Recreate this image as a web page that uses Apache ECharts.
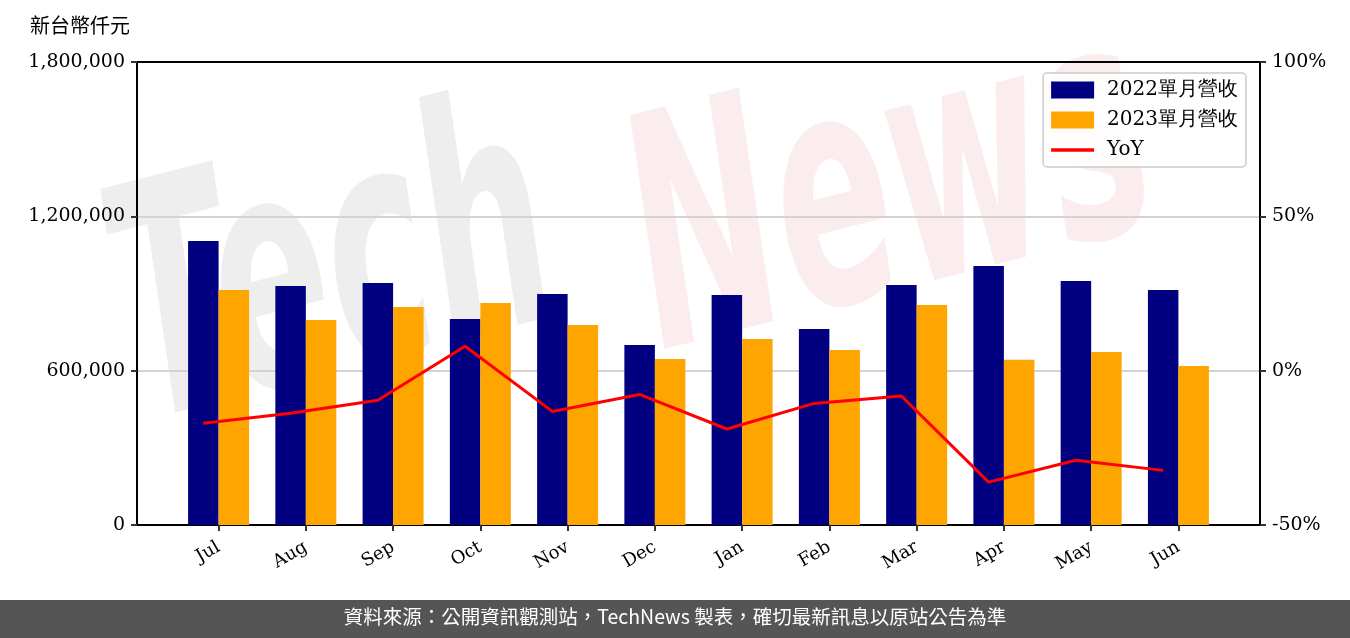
<!DOCTYPE html>
<html><head><meta charset="utf-8">
<script src="https://cdn.jsdelivr.net/npm/echarts@6/dist/echarts.min.js"></script>
<style>html,body{margin:0;padding:0;background:#fff}#c{width:1350px;height:638px}</style>
</head><body><div id="c"></div>
<script>
const categories = ['Jul','Aug','Sep','Oct','Nov','Dec','Jan','Feb','Mar','Apr','May','Jun'];
const rev2022 = [1104000, 929000, 941000, 801000, 898000, 700000, 894000, 762000, 933000, 1007000, 949000, 914000];
const rev2023 = [914000, 797000, 848000, 863000, 778000, 645000, 723000, 680000, 855000, 642000, 673000, 618000];
const yoy = [-17.0, -13.8, -9.6, 7.9, -13.2, -7.7, -18.9, -10.6, -8.2, -36.1, -29.0, -32.3];

const BAR_W = 0.35; // bar width in category units
const serif = "'DejaVu Serif', serif";
const cjk = "'Noto Sans CJK TC', 'Noto Sans CJK SC', sans-serif";
const chart = echarts.init(document.getElementById('c'), null, {renderer: 'canvas'});
const xIdx = categories.map((_, i) => i);
chart.setOption({
  animation: false,
  backgroundColor: '#fff',
  grid: {left: 137, right: 90, top: 62, bottom: 113},
  graphic: [
    {type: 'text', x: 165, y: 495, rotation: 0.25, scaleX: 0.8, scaleY: 1.5, z: 0,
     style: {text: 'Tech', font: "italic bold 215px 'DejaVu Sans'", fill: 'rgba(140,140,140,0.15)', textVerticalAlign: 'bottom'}},
    {type: 'text', x: 680, y: 425, rotation: 0.25, scaleX: 0.8, scaleY: 1.5, z: 0,
     style: {text: 'News', font: "italic bold 215px 'DejaVu Sans'", fill: 'rgba(225,130,130,0.14)', textVerticalAlign: 'bottom'}},
    {type: 'text', left: 30, top: 15, style: {text: '新台幣仟元', font: "20px " + cjk, fill: '#000'}},
    {type: 'rect', left: 0, top: 600, shape: {width: 1350, height: 38}, style: {fill: '#555555'}},
    {type: 'text', left: 'center', top: 607, style: {text: '資料來源：公開資訊觀測站，TechNews 製表，確切最新訊息以原站公告為準', font: "19.5px " + cjk, fill: '#fff'}}
  ],
  legend: {
    orient: 'vertical', right: 104, top: 73,
    itemWidth: 43, itemHeight: 17, itemGap: 10,
    padding: [7, 8, 7, 8],
    borderColor: '#cccccc', borderWidth: 1.5, borderRadius: 4,
    backgroundColor: 'rgba(255,255,255,0.8)',
    textStyle: {fontFamily: serif, fontSize: 20, color: '#000', padding: [0, 0, 0, 8]},
    data: [{name: '2022單月營收', icon: 'rect'}, {name: '2023單月營收', icon: 'rect'},
           {name: 'YoY', icon: 'path://M0,0 L43,0 L43,3.5 L0,3.5 Z'}]
  },
  xAxis: [{
    type: 'value', min: -0.935, max: 11.935,
    axisLine: {show: true, onZero: false, lineStyle: {color: '#000', width: 2}},
    axisTick: {show: true, customValues: xIdx, length: 6, inside: false, lineStyle: {color: '#333', width: 2}},
    axisLabel: {customValues: xIdx, formatter: v => categories[Math.round(v)], rotate: 30, margin: 21,
      fontFamily: serif, fontSize: 18, color: '#000'},
    splitLine: {show: false}
  }, {
    type: 'value', min: -0.935, max: 11.935, position: 'top',
    axisLine: {show: true, onZero: false, lineStyle: {color: '#000', width: 2}},
    axisTick: {show: false}, axisLabel: {show: false}, splitLine: {show: false}
  }],
  yAxis: [
    {type: 'value', min: 0, max: 1800000, interval: 600000,
     axisLine: {show: true, onZero: false, lineStyle: {color: '#000', width: 2}},
     axisTick: {show: true, length: 6, lineStyle: {color: '#333', width: 2}},
     axisLabel: {formatter: v => v.toLocaleString('en-US'), fontFamily: serif, fontSize: 19, color: '#000', margin: 12},
     splitLine: {show: true, showMinLine: false, showMaxLine: false, lineStyle: {color: '#d3d3d3', width: 2}}},
    {type: 'value', min: -50, max: 100, interval: 50, position: 'right',
     axisLine: {show: true, onZero: false, lineStyle: {color: '#000', width: 2}},
     axisTick: {show: true, length: 6, lineStyle: {color: '#333', width: 2}},
     axisLabel: {formatter: v => v + '%', fontFamily: serif, fontSize: 19, color: '#000', margin: 12},
     splitLine: {show: false}}
  ],
  series: [
    {name: '2022單月營收', type: 'bar', barWidth: 30.5, barGap: '0%', z: 2,
     itemStyle: {color: '#000080'}, data: rev2022.map((v, i) => [i, v])},
    {name: '2023單月營收', type: 'bar', barWidth: 30.5, barGap: '0%', z: 2,
     itemStyle: {color: '#ffa500'}, data: rev2023.map((v, i) => [i, v])},
    {name: 'YoY', type: 'line', yAxisIndex: 1, symbol: 'none', z: 3,
     lineStyle: {color: '#ff0000', width: 3}, itemStyle: {color: '#ff0000'},
     data: yoy.map((v, i) => [i - BAR_W / 2, v])}
  ]
});
</script></body></html>
